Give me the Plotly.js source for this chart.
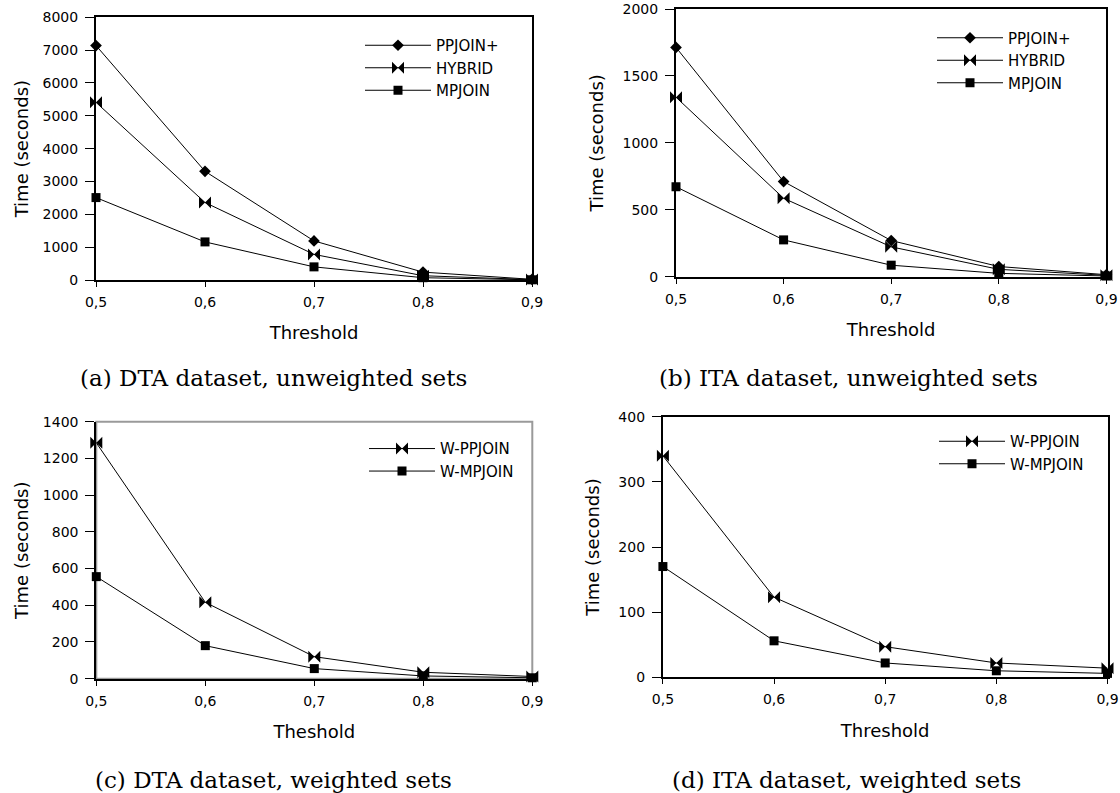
<!DOCTYPE html>
<html>
<head>
<meta charset="utf-8">
<script src="https://cdn.plot.ly/plotly-3.0.1.min.js"></script>
<style>html,body{margin:0;padding:0;background:#fff;}#chart{width:1120px;height:793px;}</style>
</head>
<body>
<div id="chart"></div>
<script>
// ---- data ----
const thresholds = [0.5, 0.6, 0.7, 0.8, 0.9];
const xTickText = ['0,5', '0,6', '0,7', '0,8', '0,9'];

// (a) DTA dataset, unweighted sets
const dtaPPJOIN = [7140, 3310, 1190, 240, 20];
const dtaHYBRID = [5410, 2360, 780, 130, 12];
const dtaMPJOIN = [2510, 1160, 400, 70, 6];

// (b) ITA dataset, unweighted sets
const itaPPJOIN = [1713, 711, 270, 76, 15];
const itaHYBRID = [1341, 586, 223, 55, 10];
const itaMPJOIN = [672, 275, 86, 25, 5];

// (c) DTA dataset, weighted sets
const dtaWPPJOIN = [1285, 416, 120, 35, 12];
const dtaWMPJOIN = [556, 180, 55, 15, 5];

// (d) ITA dataset, weighted sets
const itaWPPJOIN = [340, 123, 47, 22, 14];
const itaWMPJOIN = [170, 56, 22, 10, 6];

const yTicksA = [0, 1000, 2000, 3000, 4000, 5000, 6000, 7000, 8000];
const yTicksB = [0, 500, 1000, 1500, 2000];
const yTicksC = [0, 200, 400, 600, 800, 1000, 1200, 1400];
const yTicksD = [0, 100, 200, 300, 400];

const captions = ['(a) DTA dataset, unweighted sets', '(b) ITA dataset, unweighted sets',
                  '(c) DTA dataset, weighted sets', '(d) ITA dataset, weighted sets'];

// ---- styling ----
const FONT = 'DejaVu Sans, Verdana, sans-serif';
const symbols = {PP: 'diamond', HY: 'bowtie', MP: 'square'};
const sizes = {diamond: 9, bowtie: 12, square: 9};

function tr(name, y, sym, xa, ya, leg) {
  return {
    type: 'scatter', mode: 'lines+markers', name: name,
    x: thresholds, y: y, xaxis: xa, yaxis: ya, legend: leg,
    line: {color: 'black', width: 1},
    marker: {symbol: sym, size: sizes[sym], color: 'black', line: {width: 0}},
    cliponaxis: false
  };
}

const data = [
  tr('PPJOIN+', dtaPPJOIN, symbols.PP, 'x', 'y', 'legend'),
  tr('HYBRID', dtaHYBRID, symbols.HY, 'x', 'y', 'legend'),
  tr('MPJOIN', dtaMPJOIN, symbols.MP, 'x', 'y', 'legend'),
  tr('PPJOIN+', itaPPJOIN, symbols.PP, 'x2', 'y2', 'legend2'),
  tr('HYBRID', itaHYBRID, symbols.HY, 'x2', 'y2', 'legend2'),
  tr('MPJOIN', itaMPJOIN, symbols.MP, 'x2', 'y2', 'legend2'),
  tr('W-PPJOIN', dtaWPPJOIN, symbols.HY, 'x3', 'y3', 'legend3'),
  tr('W-MPJOIN', dtaWMPJOIN, symbols.MP, 'x3', 'y3', 'legend3'),
  tr('W-PPJOIN', itaWPPJOIN, symbols.HY, 'x4', 'y4', 'legend4'),
  tr('W-MPJOIN', itaWMPJOIN, symbols.MP, 'x4', 'y4', 'legend4')
];

const W = 1120, H = 793;
const px = v => v / W;
const py = v => 1 - v / H;

function xAx(l, r, anchor, mirror, title) {
  return {
    domain: [px(l), px(r)], anchor: anchor, range: [0.5, 0.9],
    tickmode: 'array', tickvals: thresholds, ticktext: xTickText,
    ticks: 'outside', ticklen: 5, tickwidth: 1, tickcolor: 'black',
    ticklabelstandoff: 3, ticklabeloverflow: 'allow',
    showline: true, linecolor: 'black', linewidth: 2, mirror: mirror,
    showgrid: false, zeroline: false, fixedrange: true,
    tickfont: {family: FONT, size: 14, color: 'black'},
    title: {text: title, font: {family: FONT, size: 18, color: 'black'}, standoff: 18}
  };
}
function yAx(t, b, anchor, mirror, max, ticks, standoff) {
  return {
    domain: [py(b), py(t)], anchor: anchor, range: [0, max],
    tickmode: 'array', tickvals: ticks,
    ticks: 'outside', ticklen: 9, tickwidth: 1, tickcolor: 'black',
    ticklabelstandoff: 4, ticklabeloverflow: 'allow',
    showline: true, linecolor: 'black', linewidth: 2, mirror: mirror,
    showgrid: false, zeroline: false, fixedrange: true,
    tickfont: {family: FONT, size: 14, color: 'black'},
    title: {text: 'Time (seconds)', font: {family: FONT, size: 18, color: 'black'}, standoff: standoff}
  };
}
function leg(xl, yt) {
  return {
    x: px(xl), y: py(yt), xanchor: 'left', yanchor: 'top',
    bgcolor: 'rgba(0,0,0,0)', borderwidth: 0, itemwidth: 66,
    font: {family: FONT, size: 15, color: 'black'}
  };
}
function cap(text, xc, yc) {
  return {
    text: text, xref: 'paper', yref: 'paper', x: px(xc), y: py(yc),
    xanchor: 'center', yanchor: 'middle', showarrow: false,
    font: {family: 'DejaVu Serif, serif', size: 23, color: 'black'}
  };
}

const layout = {
  width: W, height: H,
  margin: {l: 0, r: 0, t: 0, b: 0},
  paper_bgcolor: 'white', plot_bgcolor: 'white',
  font: {family: FONT, color: 'black'},
  showlegend: true,
  xaxis: xAx(96, 532, 'y', true, 'Threshold'),
  yaxis: yAx(17.3, 280, 'x', true, 8000, yTicksA, 9),
  xaxis2: xAx(676, 1106.4, 'y2', true, 'Threshold'),
  yaxis2: yAx(9, 276.7, 'x2', true, 2000, yTicksB, 14),
  xaxis3: xAx(96.3, 532.3, 'y3', false, 'Theshold'),
  yaxis3: yAx(421.7, 678.7, 'x3', false, 1400, yTicksC, 9.5),
  xaxis4: xAx(662.9, 1107.5, 'y4', true, 'Threshold'),
  yaxis4: yAx(416.7, 677.3, 'x4', true, 400, yTicksD, 14),
  legend: leg(360, 29),
  legend2: leg(932, 21.5),
  legend3: leg(364, 432.3),
  legend4: leg(934, 425),
  shapes: [
    {type: 'rect', xref: 'x3 domain', yref: 'y3 domain', x0: 0, x1: 1, y0: 0, y1: 1,
     line: {color: '#9a9a9a', width: 2}, layer: 'below'}
  ],
  annotations: [
    cap(captions[0], 273, 378),
    cap(captions[1], 848, 378),
    cap(captions[2], 273.5, 780),
    cap(captions[3], 846.5, 780)
  ]
};

Plotly.newPlot('chart', data, layout, {displayModeBar: false, staticPlot: true});
</script>
</body>
</html>
